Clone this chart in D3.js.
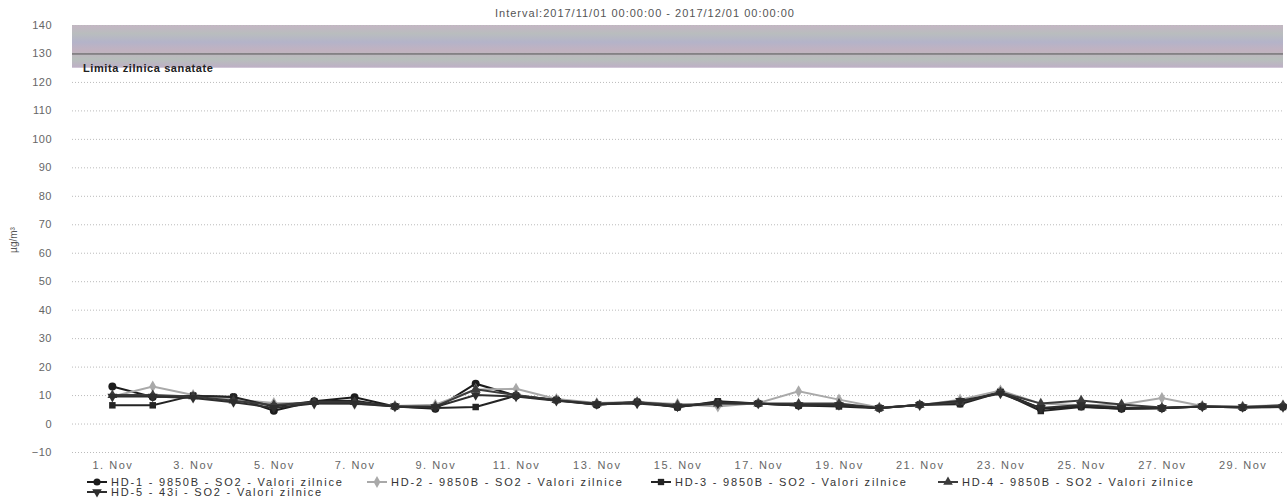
<!DOCTYPE html>
<html>
<head>
<meta charset="utf-8">
<script src="https://cdn.jsdelivr.net/npm/d3@7"></script>
<style>
    body { margin: 0; background: #fff; }
    svg { font-family: "Liberation Sans", Arial, sans-serif; }
</style>
</head>
<body>
<svg id="chart" width="1287" height="500"></svg>
<script>
// days of November 2017
let days = d3.range(1, 31);
let tickDays = d3.range(1, 30, 2);
let yTicks = d3.range(-10, 141, 10);

let seriesNames = [
    "HD-1 - 9850B - SO2 - Valori zilnice",
    "HD-2 - 9850B - SO2 - Valori zilnice",
    "HD-3 - 9850B - SO2 - Valori zilnice",
    "HD-4 - 9850B - SO2 - Valori zilnice",
    "HD-5 - 43i - SO2 - Valori zilnice"
];

let hd1 = [13, 9.3, 9.8, 9.3, 4.5, 7.8, 9.2, 6, 5.2, 14, 9.8, 8.4, 6.6, 7.6, 5.8, 7.6, 7, 6.3, 6.5, 5.5, 6.6, 7, 11.3, 5.2, 6, 5.2, 5.4, 6, 5.6, 6];
let hd2 = [9.5, 13, 10, 8.5, 7.2, 7, 6.9, 6.2, 6.6, 12, 12.2, 8.6, 7.2, 7.6, 6.9, 6, 7.2, 11.3, 8.4, 5.6, 6.4, 8.4, 11.6, 7, 6.4, 6.7, 9, 6.2, 6, 6.4];
let hd3 = [6.4, 6.4, 9.8, 9.3, 6, 7.8, 8, 6, 5.5, 5.8, 9.8, 8.2, 6.6, 7.6, 5.7, 7.8, 7, 6.3, 6, 5.4, 6.6, 6.8, 11, 4.4, 5.8, 5.2, 5.4, 6, 5.6, 5.8];
let hd4 = [10, 10, 9.5, 8, 6.5, 7.5, 7.5, 6, 6, 12, 10, 8.2, 7, 7.5, 6.5, 7, 7, 7, 7, 5.5, 6.5, 7.5, 11, 7, 8.1, 6.7, 5.6, 6, 5.8, 6.4];
let hd5 = [9.5, 9.5, 9, 7.5, 5.5, 7, 7, 6, 5.8, 10, 9.5, 8, 6.8, 7, 6, 7, 7, 6.5, 6.5, 5.5, 6.5, 8, 10.5, 5.5, 6.5, 5.6, 5.5, 6, 5.8, 5.8];

let limitBand = [125, 140];
let limitLabel = "Limita zilnica sanatate";
let titleText = "Interval:2017/11/01 00:00:00 - 2017/12/01 00:00:00";

let seriesValues = [hd1, hd2, hd3, hd4, hd5];
let colors = ["#1c1c1c", "#a9a9a9", "#242424", "#3c3c3c", "#2e2e2e"];
let symbols = [d3.symbolCircle, d3.symbolDiamond, d3.symbolSquare, d3.symbolTriangle, d3.symbolTriangle];
let symRotate = [0, 0, 0, 0, 180];

let svg = d3.select("#chart"),
    margin = {top: 25, right: 4, bottom: 48, left: 72},
    width = 1287 - margin.left - margin.right,
    height = 500 - margin.top - margin.bottom,
    g = svg.append("g").attr("transform", "translate(" + margin.left + "," + margin.top + ")");

let dayDate = d => new Date(Date.UTC(2017, 10, d));

let x = d3.scaleUtc()
    .domain([dayDate(0.68), dayDate(30.32)])
    .range([0, width]);

let y = d3.scaleLinear()
    .domain([-10, 140])
    .range([427, 0]);

// plot band (limit)
let defs = svg.append("defs");
let grad = defs.append("linearGradient").attr("id", "bandGrad")
    .attr("x1", 0).attr("y1", 0).attr("x2", 0).attr("y2", 1);
[["0%", "#c4b6c4"], ["20%", "#b9bdbe"], ["40%", "#b4b3c9"], ["60%", "#c2b2c0"], ["80%", "#b8bfbc"], ["100%", "#beafc6"]]
    .forEach(s => grad.append("stop").attr("offset", s[0]).attr("stop-color", s[1]));

g.append("rect")
    .attr("x", 0)
    .attr("y", y(limitBand[1]))
    .attr("width", width)
    .attr("height", y(limitBand[0]) - y(limitBand[1]))
    .attr("fill", "url(#bandGrad)");

// grid + y axis
let yAxis = g.append("g")
    .call(d3.axisLeft(y).tickValues(yTicks).tickSize(-width).tickPadding(20).tickFormat(d3.format("d")));
yAxis.select(".domain").remove();
yAxis.selectAll(".tick line")
    .attr("stroke", d => d === 130 ? "#555" : "#bbb")
    .attr("stroke-dasharray", d => d === 130 ? null : "1,2");
yAxis.selectAll(".tick text")
    .attr("fill", "#666")
    .style("font-size", "11px")
    .style("letter-spacing", "0.5px");

g.append("text")
    .attr("x", 11)
    .attr("y", y(limitBand[0]) + 4)
    .attr("fill", "#222")
    .style("font-size", "11px")
    .style("font-weight", "bold")
    .style("letter-spacing", "0.6px")
    .text(limitLabel);

// x axis
let xAxis = g.append("g")
    .attr("transform", "translate(0," + height + ")")
    .call(d3.axisBottom(x).tickValues(tickDays.map(dayDate)).tickSize(0).tickPadding(9)
        .tickFormat(d3.utcFormat("%-d. %b")));
xAxis.select(".domain").remove();
xAxis.selectAll(".tick text")
    .attr("fill", "#666")
    .style("font-size", "11px")
    .style("letter-spacing", "1.5px");

// title
svg.append("text")
    .attr("x", 645)
    .attr("y", 17)
    .attr("text-anchor", "middle")
    .attr("fill", "#555")
    .style("font-size", "11px")
    .style("letter-spacing", "1px")
    .text(titleText);

// y axis title
svg.append("text")
    .attr("transform", "translate(17,240) rotate(-90)")
    .attr("text-anchor", "middle")
    .attr("fill", "#555")
    .style("font-size", "10px")
    .text("µg/m³");

// series
let line = d3.line()
    .x((d, i) => x(dayDate(days[i])))
    .y(d => y(d));

seriesValues.forEach((vals, si) => {
    let sg = g.append("g").attr("class", "series");
    sg.append("path")
        .datum(vals)
        .attr("d", line)
        .attr("fill", "none")
        .attr("stroke", colors[si])
        .attr("stroke-width", 2);
    sg.selectAll("path.marker")
        .data(vals)
        .enter().append("path")
        .attr("class", "marker")
        .attr("d", d3.symbol().type(symbols[si]).size(si === 0 ? 50 : 42))
        .attr("transform", (d, i) => "translate(" + x(dayDate(days[i])) + "," + y(d) + ") rotate(" + symRotate[si] + ")")
        .attr("fill", colors[si]);
});

// legend
let legendPos = [[87, 482], [367, 482], [651, 482], [938, 482], [87, 492]];
seriesNames.forEach((name, si) => {
    let lg = svg.append("g").attr("transform", "translate(" + legendPos[si][0] + "," + legendPos[si][1] + ")");
    lg.append("line")
        .attr("x1", 0).attr("x2", 20).attr("y1", 0).attr("y2", 0)
        .attr("stroke", colors[si]).attr("stroke-width", 2);
    lg.append("path")
        .attr("d", d3.symbol().type(symbols[si]).size(40))
        .attr("transform", "translate(10,0) rotate(" + symRotate[si] + ")")
        .attr("fill", colors[si]);
    lg.append("text")
        .attr("x", 24)
        .attr("y", 4)
        .attr("fill", "#333")
        .style("font-size", "11px")
        .style("letter-spacing", "1.8px")
        .text(name);
});
</script>
</body>
</html>
